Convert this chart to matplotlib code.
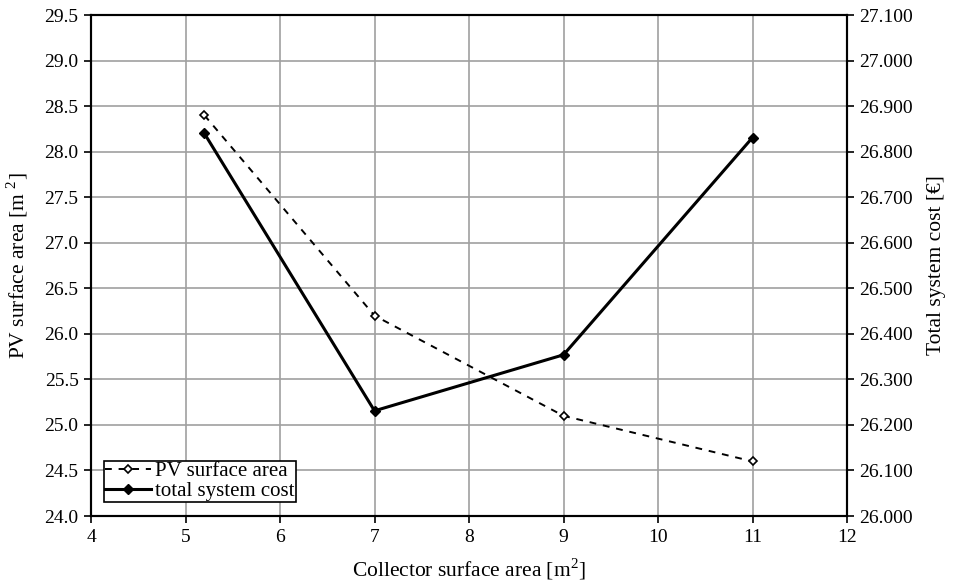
import matplotlib.pyplot as plt
from matplotlib.ticker import MultipleLocator, FuncFormatter

plt.rcParams['font.family'] = ['Liberation Serif', 'DejaVu Serif']
plt.rcParams['mathtext.fontset'] = 'custom'
plt.rcParams['mathtext.rm'] = 'Liberation Serif'

# data
collector_area = [5.2, 7, 9, 11]
pv_area = [28.4, 26.2, 25.1, 24.6]
system_cost = [26.840, 26.231, 26.354, 26.831]


def main():
    fig = plt.figure(figsize=(9.6, 5.84), dpi=100)
    ax = fig.add_axes([0.0948, 0.1164, 0.7875, 0.8578])
    ax2 = ax.twinx()

    l1, = ax.plot(collector_area, pv_area, color='black', linestyle=(0, (3.5, 3.5)),
                  linewidth=1.4, marker='D', markersize=4.5, markerfacecolor='white',
                  markeredgecolor='black', markeredgewidth=1.2, label='PV surface area')
    l2, = ax2.plot(collector_area, system_cost, color='black', linewidth=2.2,
                   marker='D', markersize=5.5, markerfacecolor='black',
                   label='total system cost')

    ax.set_xlim(4, 12)
    ax.set_ylim(24.0, 29.5)
    ax2.set_ylim(26.0, 27.1)
    ax.xaxis.set_major_locator(MultipleLocator(1))
    ax.yaxis.set_major_locator(MultipleLocator(0.5))
    ax2.yaxis.set_major_locator(MultipleLocator(0.1))
    ax.yaxis.set_major_formatter(FuncFormatter(lambda v, p: f'{v:.1f}'))
    ax2.yaxis.set_major_formatter(FuncFormatter(lambda v, p: f'{v:.3f}'))

    ax.grid(True, color='#a0a0a0', linewidth=1.2)
    ax.set_axisbelow(True)

    for a in (ax, ax2):
        for s in a.spines.values():
            s.set_linewidth(1.5)
        a.tick_params(labelsize=14, width=1.2, length=5, direction='out', pad=4)

    ax.set_xlabel('Collector surface area [m$^2$]', fontsize=15.5, labelpad=8)
    ax.set_ylabel('PV surface area [m $^2$]', fontsize=15.5, labelpad=10)
    ax2.set_ylabel('Total system cost [€]', fontsize=15.5, labelpad=10)

    leg = ax.legend(handles=[l1, l2], loc='lower left', bbox_to_anchor=(0.012, 0.02),
                    fontsize=15, frameon=True, fancybox=False, framealpha=1,
                    edgecolor='black', handlelength=2.2, handletextpad=0.2,
                    borderpad=0.05, labelspacing=0.0, borderaxespad=0.2)
    leg.get_frame().set_linewidth(1.2)

    fig.savefig('out.png', dpi=100)


if __name__ == "__main__":
    main()
